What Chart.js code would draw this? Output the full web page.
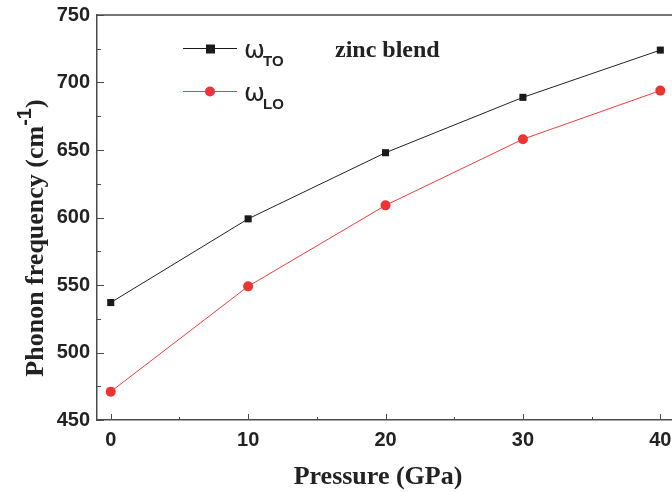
<!DOCTYPE html>
<html>
<head>
<meta charset="utf-8">
<script src="https://cdn.jsdelivr.net/npm/chart.js@4.4.1/dist/chart.umd.min.js"></script>
<style>
  html, body { margin: 0; padding: 0; background: #fff; }
  #wrap { width: 672px; height: 492px; }
</style>
</head>
<body>
<div id="wrap"><canvas id="chart" width="672" height="492"></canvas></div>
<script>
// pressure in GPa, phonon frequencies in cm-1
const pressures = [0, 10, 20, 30, 40];
const omegaTO = [537, 599, 648, 689, 724];
const omegaLO = [471, 549, 609, 658, 694];
const xTicks = [0, 10, 20, 30, 40];
const yTicks = [450, 500, 550, 600, 650, 700, 750];

const axisColor = '#4a4a4a';
const tickFont = { family: 'Liberation Sans', weight: 'bold', size: 20 };

function toPoints(ys) {
    return pressures.map((p, i) => ({ x: p, y: ys[i] }));
}

// inward tick marks, top frame line, axis titles and the in-plot legend
const decorPlugin = {
    id: 'decor',
    afterDraw(chart) {
        const ctx = chart.ctx;
        const area = chart.chartArea;
        const xs = chart.scales.x, ys = chart.scales.y;
        ctx.save();
        ctx.strokeStyle = axisColor;
        ctx.lineWidth = 1.5;
        // top frame
        ctx.beginPath();
        ctx.moveTo(area.left, area.top);
        ctx.lineTo(area.right, area.top);
        ctx.stroke();
        ctx.lineWidth = 1;
        // y ticks every 25, major every 50
        for (let v = 450; v <= 750; v += 25) {
            const py = Math.round(ys.getPixelForValue(v)) + 0.5;
            const len = v % 50 == 0 ? 7 : 4;
            ctx.beginPath();
            ctx.moveTo(area.left, py);
            ctx.lineTo(area.left + len, py);
            ctx.stroke();
        }
        // x ticks every 5, major every 10
        for (let v = 0; v <= 40; v += 5) {
            const px = Math.round(xs.getPixelForValue(v)) + 0.5;
            const len = v % 10 == 0 ? 6 : 3;
            ctx.beginPath();
            ctx.moveTo(px, area.bottom);
            ctx.lineTo(px, area.bottom - len);
            ctx.stroke();
        }

        ctx.fillStyle = '#222';
        // x title
        ctx.font = 'bold 26px "Liberation Serif"';
        ctx.textAlign = 'center';
        ctx.textBaseline = 'alphabetic';
        ctx.fillText('Pressure (GPa)', 378, 484);

        // y title, rotated, with superscript -1
        ctx.save();
        ctx.translate(43, 238);
        ctx.rotate(-Math.PI / 2);
        const main = 'Phonon frequency (cm';
        const sup = '-1';
        const close = ')';
        ctx.font = 'bold 26px "Liberation Serif"';
        const wMain = ctx.measureText(main).width;
        const wClose = ctx.measureText(close).width;
        ctx.font = 'bold 20px "Liberation Sans"';
        const wSup = ctx.measureText(sup).width;
        let start = -(wMain + wSup + wClose) / 2;
        ctx.textAlign = 'left';
        ctx.font = 'bold 26px "Liberation Serif"';
        ctx.fillText(main, start, 0);
        ctx.font = 'bold 20px "Liberation Sans"';
        ctx.fillText(sup, start + wMain, -12);
        ctx.font = 'bold 26px "Liberation Serif"';
        ctx.fillText(close, start + wMain + wSup, 0);
        ctx.restore();

        // legend
        const items = [
            { y: 48, color: '#1a1a1a', fill: '#1a1a1a', shape: 'square', sub: 'TO' },
            { y: 91, color: '#f03c3c', fill: '#ee3333', shape: 'circle', sub: 'LO' }
        ];
        items.forEach(it => {
            ctx.strokeStyle = it.color;
            ctx.lineWidth = 1;
            ctx.beginPath();
            ctx.moveTo(183, it.y + 0.5);
            ctx.lineTo(237, it.y + 0.5);
            ctx.stroke();
            ctx.fillStyle = it.fill;
            if (it.shape == 'square') {
                ctx.fillRect(206, it.y - 3.5, 9, 9);
            } else {
                ctx.beginPath();
                ctx.arc(210, it.y + 0.5, 5, 0, Math.PI * 2);
                ctx.fill();
            }
            ctx.fillStyle = '#222';
            ctx.textAlign = 'left';
            ctx.font = '25px "DejaVu Sans"';
            ctx.fillText('\u03c9', 244, it.y + 10);
            ctx.font = 'bold 15px "Liberation Sans"';
            ctx.fillText(it.sub, 263, it.y + 18);
        });

        ctx.font = 'bold 24px "Liberation Serif"';
        ctx.fillStyle = '#222';
        ctx.fillText('zinc blend', 335, 57);
        ctx.restore();
    }
};

new Chart(document.getElementById('chart').getContext('2d'), {
    type: 'line',
    data: {
        datasets: [{
            label: '\u03c9TO',
            data: toPoints(omegaTO),
            borderColor: '#222',
            borderWidth: 1,
            backgroundColor: '#1a1a1a',
            pointStyle: 'rect',
            pointRadius: 5,
            pointBorderWidth: 0,
            tension: 0
        }, {
            label: '\u03c9LO',
            data: toPoints(omegaLO),
            borderColor: '#f03c3c',
            borderWidth: 1,
            backgroundColor: '#ee3333',
            pointStyle: 'circle',
            pointRadius: 5,
            pointBorderWidth: 0,
            tension: 0
        }]
    },
    options: {
        responsive: false,
        animation: false,
        layout: { autoPadding: false, padding: { top: 15, right: 0, left: 0, bottom: 0 } },
        plugins: {
            legend: { display: false },
            tooltip: { enabled: false }
        },
        scales: {
            x: {
                type: 'linear',
                min: -1,
                max: 40.85,
                afterBuildTicks: s => { s.ticks = xTicks.map(v => ({ value: v })); },
                afterFit: s => { s.height = 72; s.paddingLeft = 0; s.paddingRight = 0; },
                grid: { display: false, drawTicks: false },
                border: { display: true, color: axisColor, width: 1.5 },
                ticks: { font: tickFont, color: '#222', padding: 8, maxRotation: 0 }
            },
            y: {
                min: 450,
                max: 750,
                afterBuildTicks: s => { s.ticks = yTicks.map(v => ({ value: v })); },
                afterFit: s => { s.width = 97; s.paddingTop = 0; s.paddingBottom = 0; },
                grid: { display: false, drawTicks: false },
                border: { display: true, color: axisColor, width: 1.5 },
                ticks: { font: tickFont, color: '#222', padding: 7 }
            }
        }
    },
    plugins: [decorPlugin]
});
</script>
</body>
</html>
